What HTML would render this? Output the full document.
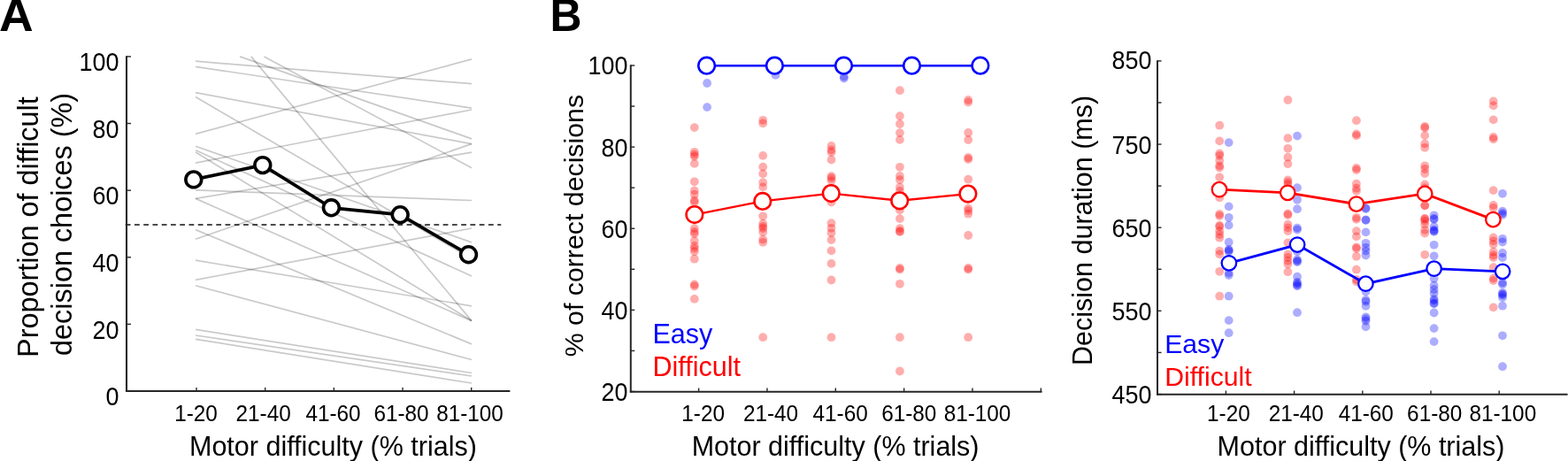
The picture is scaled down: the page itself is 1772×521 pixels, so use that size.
<!DOCTYPE html>
<html><head><meta charset="utf-8"><title>Figure</title>
<style>html,body{margin:0;padding:0;background:#fff;overflow:hidden}svg{display:block}</style>
</head><body>
<svg width="1772" height="521" viewBox="0 0 1772 521" font-family='"Liberation Sans", Arial, sans-serif'>
<rect width="1772" height="521" fill="#fff"/>
<g stroke="#000" stroke-opacity="0.21" stroke-width="1.7" fill="none">
<line x1="221" y1="69.2" x2="533" y2="94.7"/>
<line x1="221" y1="75.3" x2="533" y2="122.1"/>
<line x1="221" y1="104.7" x2="533" y2="162.6"/>
<line x1="221" y1="109.5" x2="533" y2="292.4"/>
<line x1="221" y1="151.4" x2="533" y2="66.9"/>
<line x1="221" y1="165.3" x2="533" y2="273.9"/>
<line x1="221" y1="169.7" x2="533" y2="312.0"/>
<line x1="221" y1="172.0" x2="533" y2="362.6"/>
<line x1="221" y1="184.1" x2="533" y2="124.0"/>
<line x1="221" y1="214.8" x2="533" y2="226.5"/>
<line x1="221" y1="224.4" x2="533" y2="172.2"/>
<line x1="221" y1="224.4" x2="533" y2="362.6"/>
<line x1="221" y1="259.6" x2="533" y2="388.9"/>
<line x1="221" y1="270.3" x2="533" y2="162.6"/>
<line x1="221" y1="294.2" x2="533" y2="345.8"/>
<line x1="221" y1="316.3" x2="533" y2="258.0"/>
<line x1="221" y1="322.8" x2="533" y2="406.5"/>
<line x1="221" y1="372.4" x2="533" y2="421.5"/>
<line x1="221" y1="379.0" x2="533" y2="425.0"/>
<line x1="221" y1="383.4" x2="533" y2="433.0"/>
<line x1="271.1" y1="63.9" x2="533" y2="156.9"/>
<line x1="283.8" y1="63.9" x2="533" y2="362.6"/>
<line x1="298.4" y1="63.9" x2="533" y2="189.7"/>
</g>
<line x1="141.70" y1="254.00" x2="566.30" y2="254.00" stroke="#111" stroke-width="1.6" stroke-dasharray="5.8 4.456"/>
<polyline points="218.8,202.9 296.8,186.6 374.4,234.8 452.2,242.7 529.5,287.7" fill="none" stroke="#000" stroke-width="3.7" stroke-linejoin="round"/>
<circle cx="218.8" cy="202.9" r="8.9" fill="#fff" stroke="#000" stroke-width="3.6"/>
<circle cx="296.8" cy="186.6" r="8.9" fill="#fff" stroke="#000" stroke-width="3.6"/>
<circle cx="374.4" cy="234.8" r="8.9" fill="#fff" stroke="#000" stroke-width="3.6"/>
<circle cx="452.2" cy="242.7" r="8.9" fill="#fff" stroke="#000" stroke-width="3.6"/>
<circle cx="529.5" cy="287.7" r="8.9" fill="#fff" stroke="#000" stroke-width="3.6"/>
<line x1="143.00" y1="63.20" x2="143.00" y2="443.00" stroke="#262626" stroke-width="2.1" />
<line x1="142.00" y1="442.00" x2="576.40" y2="442.00" stroke="#262626" stroke-width="2.1" />
<line x1="143.00" y1="442.00" x2="148.00" y2="442.00" stroke="#262626" stroke-width="1.4" />
<text transform="translate(134.50,458.20) scale(0.98,1.06)" text-anchor="end" font-size="27.5">0</text>
<line x1="143.00" y1="366.38" x2="148.00" y2="366.38" stroke="#262626" stroke-width="1.4" />
<text transform="translate(134.50,382.58) scale(0.98,1.06)" text-anchor="end" font-size="27.5">20</text>
<line x1="143.00" y1="290.76" x2="148.00" y2="290.76" stroke="#262626" stroke-width="1.4" />
<text transform="translate(134.50,306.96) scale(0.98,1.06)" text-anchor="end" font-size="27.5">40</text>
<line x1="143.00" y1="215.14" x2="148.00" y2="215.14" stroke="#262626" stroke-width="1.4" />
<text transform="translate(134.50,231.34) scale(0.98,1.06)" text-anchor="end" font-size="27.5">60</text>
<line x1="143.00" y1="139.52" x2="148.00" y2="139.52" stroke="#262626" stroke-width="1.4" />
<text transform="translate(134.50,155.72) scale(0.98,1.06)" text-anchor="end" font-size="27.5">80</text>
<line x1="143.00" y1="63.90" x2="148.00" y2="63.90" stroke="#262626" stroke-width="1.4" />
<text transform="translate(134.50,80.10) scale(0.98,1.06)" text-anchor="end" font-size="27.5">100</text>
<line x1="222.00" y1="442.00" x2="222.00" y2="438.00" stroke="#262626" stroke-width="1.4" />
<line x1="299.68" y1="442.00" x2="299.68" y2="438.00" stroke="#262626" stroke-width="1.4" />
<line x1="377.36" y1="442.00" x2="377.36" y2="438.00" stroke="#262626" stroke-width="1.4" />
<line x1="455.04" y1="442.00" x2="455.04" y2="438.00" stroke="#262626" stroke-width="1.4" />
<line x1="532.72" y1="442.00" x2="532.72" y2="438.00" stroke="#262626" stroke-width="1.4" />
<text transform="translate(221.50,475.90) scale(0.993,1.047)" text-anchor="middle" font-size="24.5">1-20</text>
<text transform="translate(297.60,475.90) scale(0.993,1.047)" text-anchor="middle" font-size="24.5">21-40</text>
<text transform="translate(376.50,475.90) scale(0.993,1.047)" text-anchor="middle" font-size="24.5">41-60</text>
<text transform="translate(453.50,475.90) scale(0.993,1.047)" text-anchor="middle" font-size="24.5">61-80</text>
<text transform="translate(531.00,475.90) scale(0.993,1.047)" text-anchor="middle" font-size="24.5">81-100</text>
<text x="214.00" y="514.60" text-anchor="start" font-size="30.5" fill="#000" font-weight="normal" >Motor difficulty (% trials)</text>
<text transform="translate(43.00,256.60) rotate(-90)" text-anchor="middle" font-size="32.4" fill="#000" font-weight="normal" >Proportion of difficult</text>
<text transform="translate(81.40,253.40) rotate(-90)" text-anchor="middle" font-size="32.4" fill="#000" font-weight="normal" >decision choices (%)</text>
<text transform="translate(-1.0,35) scale(1.05,1)" font-size="51" font-weight="bold">A</text>
<g fill="#f00" fill-opacity="0.32">
<circle cx="784.8" cy="144.1" r="4.9"/>
<circle cx="784.8" cy="171.8" r="4.9"/>
<circle cx="784.8" cy="174.7" r="4.9"/>
<circle cx="784.8" cy="176.8" r="4.9"/>
<circle cx="784.8" cy="184.9" r="4.9"/>
<circle cx="784.8" cy="205.3" r="4.9"/>
<circle cx="784.8" cy="215.4" r="4.9"/>
<circle cx="784.8" cy="219.7" r="4.9"/>
<circle cx="784.8" cy="226.5" r="4.9"/>
<circle cx="784.8" cy="228.5" r="4.9"/>
<circle cx="784.8" cy="258.1" r="4.9"/>
<circle cx="784.8" cy="261.9" r="4.9"/>
<circle cx="784.8" cy="264.4" r="4.9"/>
<circle cx="784.8" cy="272.1" r="4.9"/>
<circle cx="784.8" cy="277.9" r="4.9"/>
<circle cx="784.8" cy="280.8" r="4.9"/>
<circle cx="784.8" cy="284.2" r="4.9"/>
<circle cx="784.8" cy="292.7" r="4.9"/>
<circle cx="784.8" cy="321.5" r="4.9"/>
<circle cx="784.8" cy="323.5" r="4.9"/>
<circle cx="784.8" cy="337.9" r="4.9"/>
<circle cx="862.2" cy="135.8" r="4.9"/>
<circle cx="862.2" cy="139.4" r="4.9"/>
<circle cx="862.2" cy="175.9" r="4.9"/>
<circle cx="862.2" cy="188.6" r="4.9"/>
<circle cx="862.2" cy="196.4" r="4.9"/>
<circle cx="862.2" cy="206.1" r="4.9"/>
<circle cx="862.2" cy="211.4" r="4.9"/>
<circle cx="862.2" cy="244.3" r="4.9"/>
<circle cx="862.2" cy="252.7" r="4.9"/>
<circle cx="862.2" cy="255.9" r="4.9"/>
<circle cx="862.2" cy="258.0" r="4.9"/>
<circle cx="862.2" cy="262.2" r="4.9"/>
<circle cx="862.2" cy="270.6" r="4.9"/>
<circle cx="862.2" cy="273.8" r="4.9"/>
<circle cx="862.2" cy="381.2" r="4.9"/>
<circle cx="939.5" cy="164.9" r="4.9"/>
<circle cx="939.5" cy="169.5" r="4.9"/>
<circle cx="939.5" cy="172.1" r="4.9"/>
<circle cx="939.5" cy="180.5" r="4.9"/>
<circle cx="939.5" cy="199.1" r="4.9"/>
<circle cx="939.5" cy="201.2" r="4.9"/>
<circle cx="939.5" cy="204.3" r="4.9"/>
<circle cx="939.5" cy="228.6" r="4.9"/>
<circle cx="939.5" cy="252.2" r="4.9"/>
<circle cx="939.5" cy="257.8" r="4.9"/>
<circle cx="939.5" cy="263.3" r="4.9"/>
<circle cx="939.5" cy="271.1" r="4.9"/>
<circle cx="939.5" cy="283.4" r="4.9"/>
<circle cx="939.5" cy="297.9" r="4.9"/>
<circle cx="939.5" cy="316.5" r="4.9"/>
<circle cx="939.5" cy="381.2" r="4.9"/>
<circle cx="1016.9" cy="102.2" r="4.9"/>
<circle cx="1016.9" cy="131.1" r="4.9"/>
<circle cx="1016.9" cy="140.0" r="4.9"/>
<circle cx="1016.9" cy="150.1" r="4.9"/>
<circle cx="1016.9" cy="157.9" r="4.9"/>
<circle cx="1016.9" cy="188.8" r="4.9"/>
<circle cx="1016.9" cy="199.0" r="4.9"/>
<circle cx="1016.9" cy="203.2" r="4.9"/>
<circle cx="1016.9" cy="211.6" r="4.9"/>
<circle cx="1016.9" cy="215.9" r="4.9"/>
<circle cx="1016.9" cy="237.4" r="4.9"/>
<circle cx="1016.9" cy="247.1" r="4.9"/>
<circle cx="1016.9" cy="258.1" r="4.9"/>
<circle cx="1016.9" cy="261.2" r="4.9"/>
<circle cx="1016.9" cy="262.0" r="4.9"/>
<circle cx="1016.9" cy="303.0" r="4.9"/>
<circle cx="1016.9" cy="304.6" r="4.9"/>
<circle cx="1016.9" cy="320.8" r="4.9"/>
<circle cx="1016.9" cy="381.2" r="4.9"/>
<circle cx="1016.9" cy="419.5" r="4.9"/>
<circle cx="1094.2" cy="113.0" r="4.9"/>
<circle cx="1094.2" cy="115.5" r="4.9"/>
<circle cx="1094.2" cy="150.0" r="4.9"/>
<circle cx="1094.2" cy="158.0" r="4.9"/>
<circle cx="1094.2" cy="178.0" r="4.9"/>
<circle cx="1094.2" cy="180.0" r="4.9"/>
<circle cx="1094.2" cy="202.7" r="4.9"/>
<circle cx="1094.2" cy="235.4" r="4.9"/>
<circle cx="1094.2" cy="238.1" r="4.9"/>
<circle cx="1094.2" cy="241.7" r="4.9"/>
<circle cx="1094.2" cy="266.0" r="4.9"/>
<circle cx="1094.2" cy="303.0" r="4.9"/>
<circle cx="1094.2" cy="304.6" r="4.9"/>
<circle cx="1094.2" cy="381.2" r="4.9"/>
</g><g fill="#00f" fill-opacity="0.32">
<circle cx="799.1" cy="94.0" r="4.9"/>
<circle cx="799.1" cy="121.1" r="4.9"/>
<circle cx="799.1" cy="74.2" r="4.9"/>
<circle cx="876.5" cy="84.9" r="4.9"/>
<circle cx="876.5" cy="74.2" r="4.9"/>
<circle cx="953.8" cy="86.5" r="4.9"/>
<circle cx="953.8" cy="88.5" r="4.9"/>
<circle cx="953.8" cy="74.2" r="4.9"/>
<circle cx="1031.2" cy="74.2" r="4.9"/>
<circle cx="1108.5" cy="74.2" r="4.9"/>
</g>
<polyline points="784.9,242.6 861.8,227.4 939.3,218.6 1016.7,226.8 1093.9,219.1" fill="none" stroke="#f00" stroke-width="2.4"/>
<circle cx="784.9" cy="242.6" r="9.3" fill="#fff" stroke="#f00" stroke-width="2.6"/>
<circle cx="861.8" cy="227.4" r="9.3" fill="#fff" stroke="#f00" stroke-width="2.6"/>
<circle cx="939.3" cy="218.6" r="9.3" fill="#fff" stroke="#f00" stroke-width="2.6"/>
<circle cx="1016.7" cy="226.8" r="9.3" fill="#fff" stroke="#f00" stroke-width="2.6"/>
<circle cx="1093.9" cy="219.1" r="9.3" fill="#fff" stroke="#f00" stroke-width="2.6"/>
<polyline points="798.6,74.2 875.4,74.2 953.5,74.2 1030.5,74.2 1107.9,74.2" fill="none" stroke="#00f" stroke-width="2.4"/>
<circle cx="798.6" cy="74.2" r="9.3" fill="#fff" stroke="#00f" stroke-width="2.6"/>
<circle cx="875.4" cy="74.2" r="9.3" fill="#fff" stroke="#00f" stroke-width="2.6"/>
<circle cx="953.5" cy="74.2" r="9.3" fill="#fff" stroke="#00f" stroke-width="2.6"/>
<circle cx="1030.5" cy="74.2" r="9.3" fill="#fff" stroke="#00f" stroke-width="2.6"/>
<circle cx="1107.9" cy="74.2" r="9.3" fill="#fff" stroke="#00f" stroke-width="2.6"/>
<line x1="712.80" y1="73.30" x2="712.80" y2="443.50" stroke="#262626" stroke-width="2.0" />
<line x1="711.80" y1="442.70" x2="1177.60" y2="442.70" stroke="#262626" stroke-width="2.0" />
<line x1="712.80" y1="442.50" x2="717.30" y2="442.50" stroke="#262626" stroke-width="1.4" />
<text transform="translate(709.50,453.40) scale(0.98,1.06)" text-anchor="end" font-size="27.5">20</text>
<line x1="712.80" y1="396.44" x2="717.30" y2="396.44" stroke="#262626" stroke-width="1.4" />
<line x1="712.80" y1="350.38" x2="717.30" y2="350.38" stroke="#262626" stroke-width="1.4" />
<text transform="translate(709.50,361.27) scale(0.98,1.06)" text-anchor="end" font-size="27.5">40</text>
<line x1="712.80" y1="304.31" x2="717.30" y2="304.31" stroke="#262626" stroke-width="1.4" />
<line x1="712.80" y1="258.25" x2="717.30" y2="258.25" stroke="#262626" stroke-width="1.4" />
<text transform="translate(709.50,269.15) scale(0.98,1.06)" text-anchor="end" font-size="27.5">60</text>
<line x1="712.80" y1="212.19" x2="717.30" y2="212.19" stroke="#262626" stroke-width="1.4" />
<line x1="712.80" y1="166.12" x2="717.30" y2="166.12" stroke="#262626" stroke-width="1.4" />
<text transform="translate(709.50,177.03) scale(0.98,1.06)" text-anchor="end" font-size="27.5">80</text>
<line x1="712.80" y1="120.06" x2="717.30" y2="120.06" stroke="#262626" stroke-width="1.4" />
<line x1="712.80" y1="74.00" x2="717.30" y2="74.00" stroke="#262626" stroke-width="1.4" />
<text transform="translate(709.50,83.90) scale(0.98,1.06)" text-anchor="end" font-size="27.5">100</text>
<line x1="789.60" y1="442.50" x2="789.60" y2="438.50" stroke="#262626" stroke-width="1.4" />
<line x1="866.95" y1="442.50" x2="866.95" y2="438.50" stroke="#262626" stroke-width="1.4" />
<line x1="944.30" y1="442.50" x2="944.30" y2="438.50" stroke="#262626" stroke-width="1.4" />
<line x1="1021.65" y1="442.50" x2="1021.65" y2="438.50" stroke="#262626" stroke-width="1.4" />
<line x1="1099.00" y1="442.50" x2="1099.00" y2="438.50" stroke="#262626" stroke-width="1.4" />
<line x1="1176.35" y1="442.50" x2="1176.35" y2="438.50" stroke="#262626" stroke-width="1.4" />
<text transform="translate(794.60,476.00) scale(0.993,1.047)" text-anchor="middle" font-size="24.5">1-20</text>
<text transform="translate(871.00,476.00) scale(0.993,1.047)" text-anchor="middle" font-size="24.5">21-40</text>
<text transform="translate(949.60,476.00) scale(0.993,1.047)" text-anchor="middle" font-size="24.5">41-60</text>
<text transform="translate(1027.30,476.00) scale(0.993,1.047)" text-anchor="middle" font-size="24.5">61-80</text>
<text transform="translate(1104.50,476.00) scale(0.993,1.047)" text-anchor="middle" font-size="24.5">81-100</text>
<text x="781.70" y="515.00" text-anchor="start" font-size="30.5" fill="#000" font-weight="normal" >Motor difficulty (% trials)</text>
<text transform="translate(659.10,255.10) rotate(-90)" text-anchor="middle" font-size="30.3" fill="#000" font-weight="normal" >% of correct decisions</text>
<text x="737.50" y="388.00" text-anchor="start" font-size="30.5" fill="#00f" font-weight="normal" >Easy</text>
<text x="737.50" y="425.40" text-anchor="start" font-size="30.5" fill="#f00" font-weight="normal" >Difficult</text>
<text transform="translate(621.5,35) scale(0.96,1)" font-size="52" font-weight="bold">B</text>
<g fill="#f00" fill-opacity="0.32">
<circle cx="1378.2" cy="141.7" r="4.9"/>
<circle cx="1378.2" cy="159.4" r="4.9"/>
<circle cx="1378.2" cy="173.5" r="4.9"/>
<circle cx="1378.2" cy="175.8" r="4.9"/>
<circle cx="1378.2" cy="181.5" r="4.9"/>
<circle cx="1378.2" cy="187.3" r="4.9"/>
<circle cx="1378.2" cy="189.5" r="4.9"/>
<circle cx="1378.2" cy="200.3" r="4.9"/>
<circle cx="1378.2" cy="213.7" r="4.9"/>
<circle cx="1378.2" cy="223.4" r="4.9"/>
<circle cx="1378.2" cy="242.0" r="4.9"/>
<circle cx="1378.2" cy="244.0" r="4.9"/>
<circle cx="1378.2" cy="254.6" r="4.9"/>
<circle cx="1378.2" cy="256.2" r="4.9"/>
<circle cx="1378.2" cy="261.2" r="4.9"/>
<circle cx="1378.2" cy="265.0" r="4.9"/>
<circle cx="1378.2" cy="268.7" r="4.9"/>
<circle cx="1378.2" cy="283.6" r="4.9"/>
<circle cx="1378.2" cy="287.4" r="4.9"/>
<circle cx="1378.2" cy="306.8" r="4.9"/>
<circle cx="1378.2" cy="334.7" r="4.9"/>
<circle cx="1455.4" cy="113.0" r="4.9"/>
<circle cx="1455.4" cy="156.1" r="4.9"/>
<circle cx="1455.4" cy="167.8" r="4.9"/>
<circle cx="1455.4" cy="177.7" r="4.9"/>
<circle cx="1455.4" cy="185.2" r="4.9"/>
<circle cx="1455.4" cy="203.4" r="4.9"/>
<circle cx="1455.4" cy="205.9" r="4.9"/>
<circle cx="1455.4" cy="208.4" r="4.9"/>
<circle cx="1455.4" cy="217.1" r="4.9"/>
<circle cx="1455.4" cy="241.5" r="4.9"/>
<circle cx="1455.4" cy="243.0" r="4.9"/>
<circle cx="1455.4" cy="253.6" r="4.9"/>
<circle cx="1455.4" cy="257.4" r="4.9"/>
<circle cx="1455.4" cy="261.1" r="4.9"/>
<circle cx="1455.4" cy="274.3" r="4.9"/>
<circle cx="1455.4" cy="287.3" r="4.9"/>
<circle cx="1455.4" cy="291.0" r="4.9"/>
<circle cx="1455.4" cy="294.7" r="4.9"/>
<circle cx="1455.4" cy="298.5" r="4.9"/>
<circle cx="1455.4" cy="307.2" r="4.9"/>
<circle cx="1532.9" cy="136.2" r="4.9"/>
<circle cx="1532.9" cy="151.4" r="4.9"/>
<circle cx="1532.9" cy="153.4" r="4.9"/>
<circle cx="1532.9" cy="190.0" r="4.9"/>
<circle cx="1532.9" cy="192.0" r="4.9"/>
<circle cx="1532.9" cy="207.7" r="4.9"/>
<circle cx="1532.9" cy="212.7" r="4.9"/>
<circle cx="1532.9" cy="215.9" r="4.9"/>
<circle cx="1532.9" cy="230.6" r="4.9"/>
<circle cx="1532.9" cy="245.8" r="4.9"/>
<circle cx="1532.9" cy="247.9" r="4.9"/>
<circle cx="1532.9" cy="261.1" r="4.9"/>
<circle cx="1532.9" cy="267.4" r="4.9"/>
<circle cx="1532.9" cy="279.3" r="4.9"/>
<circle cx="1532.9" cy="281.0" r="4.9"/>
<circle cx="1532.9" cy="289.8" r="4.9"/>
<circle cx="1532.9" cy="304.7" r="4.9"/>
<circle cx="1532.9" cy="316.0" r="4.9"/>
<circle cx="1532.9" cy="318.4" r="4.9"/>
<circle cx="1610.2" cy="143.0" r="4.9"/>
<circle cx="1610.2" cy="144.5" r="4.9"/>
<circle cx="1610.2" cy="153.1" r="4.9"/>
<circle cx="1610.2" cy="162.4" r="4.9"/>
<circle cx="1610.2" cy="166.8" r="4.9"/>
<circle cx="1610.2" cy="187.3" r="4.9"/>
<circle cx="1610.2" cy="191.0" r="4.9"/>
<circle cx="1610.2" cy="196.0" r="4.9"/>
<circle cx="1610.2" cy="208.4" r="4.9"/>
<circle cx="1610.2" cy="212.2" r="4.9"/>
<circle cx="1610.2" cy="218.9" r="4.9"/>
<circle cx="1610.2" cy="232.1" r="4.9"/>
<circle cx="1610.2" cy="232.5" r="4.9"/>
<circle cx="1610.2" cy="247.0" r="4.9"/>
<circle cx="1610.2" cy="247.4" r="4.9"/>
<circle cx="1610.2" cy="249.9" r="4.9"/>
<circle cx="1610.2" cy="253.7" r="4.9"/>
<circle cx="1610.2" cy="259.9" r="4.9"/>
<circle cx="1610.2" cy="263.6" r="4.9"/>
<circle cx="1610.2" cy="287.8" r="4.9"/>
<circle cx="1687.7" cy="114.4" r="4.9"/>
<circle cx="1687.7" cy="119.4" r="4.9"/>
<circle cx="1687.7" cy="135.4" r="4.9"/>
<circle cx="1687.7" cy="155.0" r="4.9"/>
<circle cx="1687.7" cy="157.2" r="4.9"/>
<circle cx="1687.7" cy="215.1" r="4.9"/>
<circle cx="1687.7" cy="231.9" r="4.9"/>
<circle cx="1687.7" cy="234.9" r="4.9"/>
<circle cx="1687.7" cy="248.1" r="4.9"/>
<circle cx="1687.7" cy="268.5" r="4.9"/>
<circle cx="1687.7" cy="272.3" r="4.9"/>
<circle cx="1687.7" cy="276.0" r="4.9"/>
<circle cx="1687.7" cy="284.7" r="4.9"/>
<circle cx="1687.7" cy="288.5" r="4.9"/>
<circle cx="1687.7" cy="291.0" r="4.9"/>
<circle cx="1687.7" cy="302.2" r="4.9"/>
<circle cx="1687.7" cy="314.6" r="4.9"/>
<circle cx="1687.7" cy="317.1" r="4.9"/>
<circle cx="1687.7" cy="347.4" r="4.9"/>
</g><g fill="#00f" fill-opacity="0.32">
<circle cx="1388.7" cy="161.1" r="4.9"/>
<circle cx="1388.7" cy="233.4" r="4.9"/>
<circle cx="1388.7" cy="245.8" r="4.9"/>
<circle cx="1388.7" cy="254.6" r="4.9"/>
<circle cx="1388.7" cy="273.7" r="4.9"/>
<circle cx="1388.7" cy="281.9" r="4.9"/>
<circle cx="1388.7" cy="283.0" r="4.9"/>
<circle cx="1388.7" cy="284.2" r="4.9"/>
<circle cx="1388.7" cy="297.3" r="4.9"/>
<circle cx="1388.7" cy="308.5" r="4.9"/>
<circle cx="1388.7" cy="311.0" r="4.9"/>
<circle cx="1388.7" cy="334.7" r="4.9"/>
<circle cx="1388.7" cy="362.1" r="4.9"/>
<circle cx="1388.7" cy="376.2" r="4.9"/>
<circle cx="1466.0" cy="153.6" r="4.9"/>
<circle cx="1466.0" cy="212.1" r="4.9"/>
<circle cx="1466.0" cy="225.8" r="4.9"/>
<circle cx="1466.0" cy="236.2" r="4.9"/>
<circle cx="1466.0" cy="257.6" r="4.9"/>
<circle cx="1466.0" cy="259.6" r="4.9"/>
<circle cx="1466.0" cy="276.6" r="4.9"/>
<circle cx="1466.0" cy="284.3" r="4.9"/>
<circle cx="1466.0" cy="293.5" r="4.9"/>
<circle cx="1466.0" cy="295.0" r="4.9"/>
<circle cx="1466.0" cy="296.0" r="4.9"/>
<circle cx="1466.0" cy="312.7" r="4.9"/>
<circle cx="1466.0" cy="319.0" r="4.9"/>
<circle cx="1466.0" cy="320.5" r="4.9"/>
<circle cx="1466.0" cy="322.1" r="4.9"/>
<circle cx="1466.0" cy="323.4" r="4.9"/>
<circle cx="1466.0" cy="353.2" r="4.9"/>
<circle cx="1543.5" cy="235.1" r="4.9"/>
<circle cx="1543.5" cy="236.0" r="4.9"/>
<circle cx="1543.5" cy="248.3" r="4.9"/>
<circle cx="1543.5" cy="249.0" r="4.9"/>
<circle cx="1543.5" cy="262.4" r="4.9"/>
<circle cx="1543.5" cy="274.8" r="4.9"/>
<circle cx="1543.5" cy="279.8" r="4.9"/>
<circle cx="1543.5" cy="283.6" r="4.9"/>
<circle cx="1543.5" cy="288.5" r="4.9"/>
<circle cx="1543.5" cy="320.7" r="4.9"/>
<circle cx="1543.5" cy="329.6" r="4.9"/>
<circle cx="1543.5" cy="339.0" r="4.9"/>
<circle cx="1543.5" cy="340.8" r="4.9"/>
<circle cx="1543.5" cy="345.8" r="4.9"/>
<circle cx="1543.5" cy="358.3" r="4.9"/>
<circle cx="1543.5" cy="360.5" r="4.9"/>
<circle cx="1543.5" cy="362.8" r="4.9"/>
<circle cx="1543.5" cy="369.3" r="4.9"/>
<circle cx="1620.6" cy="243.3" r="4.9"/>
<circle cx="1620.6" cy="247.0" r="4.9"/>
<circle cx="1620.6" cy="247.9" r="4.9"/>
<circle cx="1620.6" cy="256.2" r="4.9"/>
<circle cx="1620.6" cy="259.8" r="4.9"/>
<circle cx="1620.6" cy="261.0" r="4.9"/>
<circle cx="1620.6" cy="261.9" r="4.9"/>
<circle cx="1620.6" cy="276.8" r="4.9"/>
<circle cx="1620.6" cy="289.3" r="4.9"/>
<circle cx="1620.6" cy="303.7" r="4.9"/>
<circle cx="1620.6" cy="314.7" r="4.9"/>
<circle cx="1620.6" cy="322.7" r="4.9"/>
<circle cx="1620.6" cy="327.2" r="4.9"/>
<circle cx="1620.6" cy="331.4" r="4.9"/>
<circle cx="1620.6" cy="338.0" r="4.9"/>
<circle cx="1620.6" cy="339.6" r="4.9"/>
<circle cx="1620.6" cy="342.5" r="4.9"/>
<circle cx="1620.6" cy="343.4" r="4.9"/>
<circle cx="1620.6" cy="353.5" r="4.9"/>
<circle cx="1620.6" cy="371.1" r="4.9"/>
<circle cx="1620.6" cy="386.1" r="4.9"/>
<circle cx="1698.0" cy="218.8" r="4.9"/>
<circle cx="1698.0" cy="238.6" r="4.9"/>
<circle cx="1698.0" cy="241.0" r="4.9"/>
<circle cx="1698.0" cy="242.8" r="4.9"/>
<circle cx="1698.0" cy="269.8" r="4.9"/>
<circle cx="1698.0" cy="273.5" r="4.9"/>
<circle cx="1698.0" cy="286.0" r="4.9"/>
<circle cx="1698.0" cy="291.0" r="4.9"/>
<circle cx="1698.0" cy="306.8" r="4.9"/>
<circle cx="1698.0" cy="319.6" r="4.9"/>
<circle cx="1698.0" cy="321.2" r="4.9"/>
<circle cx="1698.0" cy="330.8" r="4.9"/>
<circle cx="1698.0" cy="332.4" r="4.9"/>
<circle cx="1698.0" cy="333.5" r="4.9"/>
<circle cx="1698.0" cy="336.2" r="4.9"/>
<circle cx="1698.0" cy="345.7" r="4.9"/>
<circle cx="1698.0" cy="379.3" r="4.9"/>
<circle cx="1698.0" cy="414.2" r="4.9"/>
</g>
<polyline points="1378.0,214.2 1455.2,217.8 1532.9,230.6 1610.2,218.9 1687.4,248.1" fill="none" stroke="#f00" stroke-width="2.8"/>
<circle cx="1378.0" cy="214.2" r="8.25" fill="#fff" stroke="#f00" stroke-width="2.3"/>
<circle cx="1455.2" cy="217.8" r="8.25" fill="#fff" stroke="#f00" stroke-width="2.3"/>
<circle cx="1532.9" cy="230.6" r="8.25" fill="#fff" stroke="#f00" stroke-width="2.3"/>
<circle cx="1610.2" cy="218.9" r="8.25" fill="#fff" stroke="#f00" stroke-width="2.3"/>
<circle cx="1687.4" cy="248.1" r="8.25" fill="#fff" stroke="#f00" stroke-width="2.3"/>
<polyline points="1388.9,297.3 1466.1,276.6 1543.4,320.7 1620.6,303.7 1698.1,306.8" fill="none" stroke="#00f" stroke-width="2.8"/>
<circle cx="1388.9" cy="297.3" r="8.25" fill="#fff" stroke="#00f" stroke-width="2.3"/>
<circle cx="1466.1" cy="276.6" r="8.25" fill="#fff" stroke="#00f" stroke-width="2.3"/>
<circle cx="1543.4" cy="320.7" r="8.25" fill="#fff" stroke="#00f" stroke-width="2.3"/>
<circle cx="1620.6" cy="303.7" r="8.25" fill="#fff" stroke="#00f" stroke-width="2.3"/>
<circle cx="1698.1" cy="306.8" r="8.25" fill="#fff" stroke="#00f" stroke-width="2.3"/>
<line x1="1308.00" y1="68.20" x2="1308.00" y2="446.50" stroke="#262626" stroke-width="2.0" />
<line x1="1307.00" y1="445.70" x2="1771.60" y2="445.70" stroke="#262626" stroke-width="2.0" />
<line x1="1308.00" y1="445.50" x2="1312.50" y2="445.50" stroke="#262626" stroke-width="1.4" />
<text transform="translate(1301.50,456.30) scale(0.98,1.06)" text-anchor="end" font-size="27.5">450</text>
<line x1="1308.00" y1="398.43" x2="1312.50" y2="398.43" stroke="#262626" stroke-width="1.4" />
<line x1="1308.00" y1="351.35" x2="1312.50" y2="351.35" stroke="#262626" stroke-width="1.4" />
<text transform="translate(1301.50,362.15) scale(0.98,1.06)" text-anchor="end" font-size="27.5">550</text>
<line x1="1308.00" y1="304.27" x2="1312.50" y2="304.27" stroke="#262626" stroke-width="1.4" />
<line x1="1308.00" y1="257.20" x2="1312.50" y2="257.20" stroke="#262626" stroke-width="1.4" />
<text transform="translate(1301.50,268.00) scale(0.98,1.06)" text-anchor="end" font-size="27.5">650</text>
<line x1="1308.00" y1="210.12" x2="1312.50" y2="210.12" stroke="#262626" stroke-width="1.4" />
<line x1="1308.00" y1="163.05" x2="1312.50" y2="163.05" stroke="#262626" stroke-width="1.4" />
<text transform="translate(1301.50,173.85) scale(0.98,1.06)" text-anchor="end" font-size="27.5">750</text>
<line x1="1308.00" y1="115.98" x2="1312.50" y2="115.98" stroke="#262626" stroke-width="1.4" />
<line x1="1308.00" y1="68.90" x2="1312.50" y2="68.90" stroke="#262626" stroke-width="1.4" />
<text transform="translate(1301.50,78.40) scale(0.98,1.06)" text-anchor="end" font-size="27.5">850</text>
<line x1="1385.40" y1="445.70" x2="1385.40" y2="441.50" stroke="#262626" stroke-width="1.4" />
<line x1="1462.60" y1="445.70" x2="1462.60" y2="441.50" stroke="#262626" stroke-width="1.4" />
<line x1="1539.80" y1="445.70" x2="1539.80" y2="441.50" stroke="#262626" stroke-width="1.4" />
<line x1="1617.00" y1="445.70" x2="1617.00" y2="441.50" stroke="#262626" stroke-width="1.4" />
<line x1="1694.20" y1="445.70" x2="1694.20" y2="441.50" stroke="#262626" stroke-width="1.4" />
<text transform="translate(1388.40,476.00) scale(0.993,1.047)" text-anchor="middle" font-size="24.5">1-20</text>
<text transform="translate(1464.80,476.00) scale(0.993,1.047)" text-anchor="middle" font-size="24.5">21-40</text>
<text transform="translate(1543.80,476.00) scale(0.993,1.047)" text-anchor="middle" font-size="24.5">41-60</text>
<text transform="translate(1621.20,476.00) scale(0.993,1.047)" text-anchor="middle" font-size="24.5">61-80</text>
<text transform="translate(1698.30,476.00) scale(0.993,1.047)" text-anchor="middle" font-size="24.5">81-100</text>
<text x="1375.60" y="514.90" text-anchor="start" font-size="30.5" fill="#000" font-weight="normal" >Motor difficulty (% trials)</text>
<text transform="translate(1233.70,260.40) rotate(-90)" text-anchor="middle" font-size="30.5" fill="#000" font-weight="normal" >Decision duration (ms)</text>
<text x="1316.20" y="398.80" text-anchor="start" font-size="30.2" fill="#00f" font-weight="normal" >Easy</text>
<text x="1316.20" y="435.70" text-anchor="start" font-size="30.2" fill="#f00" font-weight="normal" >Difficult</text>
</svg>
</body></html>
